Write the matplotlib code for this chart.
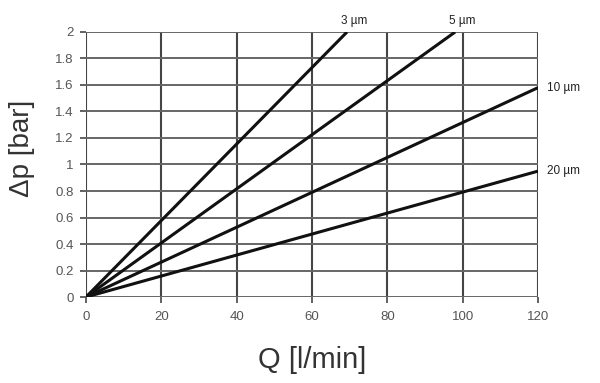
import numpy as np
import matplotlib
matplotlib.use('Agg')
import matplotlib.pyplot as plt

# Filter curves: pressure drop vs flow, straight lines from origin
filters = ['3 µm', '5 µm', '10 µm', '20 µm']
q_end = [69.3, 98.0, 120.0, 120.0]
dp_end = [2.0, 2.0, 1.58, 0.95]

x_ticks = [0, 20, 40, 60, 80, 100, 120]
y_ticks = [0, 0.2, 0.4, 0.6, 0.8, 1, 1.2, 1.4, 1.6, 1.8, 2]
y_tick_labels = ['0', '0.2', '0.4', '0.6', '0.8', '1', '1.2', '1.4', '1.6', '1.8', '2']

plt.rcParams['font.family'] = ['Liberation Sans', 'DejaVu Sans']

fig = plt.figure(figsize=(6, 3.83), dpi=100)
ax = fig.add_axes([0.1433, 0.2245, 0.7534, 0.692])

for x in x_ticks:
    ax.axvline(x, color='#454545', lw=1.5, zorder=1)
for y in y_ticks:
    ax.axhline(y, color='#666666', lw=1.4, zorder=1)

for name, qe, de in zip(filters, q_end, dp_end):
    ax.plot([0, qe], [0, de], color='#111111', lw=2.2, solid_capstyle='butt', zorder=3)
    if de >= 2.0:
        ax.text(qe + 2, de + 0.04, name, ha='center', va='bottom', fontsize=8.5, color='#222222')
    else:
        ax.text(qe + 2.5, de, name, ha='left', va='center', fontsize=8.5, color='#222222')

ax.set_xlim(0, 120)
ax.set_ylim(0, 2)
ax.set_xticks(x_ticks)
ax.set_yticks(y_ticks)
ax.set_yticklabels(y_tick_labels)
ax.tick_params(colors='#555555', labelcolor='#555555', labelsize=9.5, length=4, width=1.3)
ax.tick_params(axis='x', pad=6)
ax.tick_params(axis='y', pad=5)
for s in ax.spines.values():
    s.set_visible(False)

ax.set_xlabel('Q [l/min]', fontsize=21, color='#333333', va='center')
ax.xaxis.set_label_coords(0.5, -0.238)
ax.set_ylabel('Δp [bar]', fontsize=20, color='#333333', va='center')
ax.yaxis.set_label_coords(-0.142, 0.56)

fig.savefig('out.png', dpi=100)
